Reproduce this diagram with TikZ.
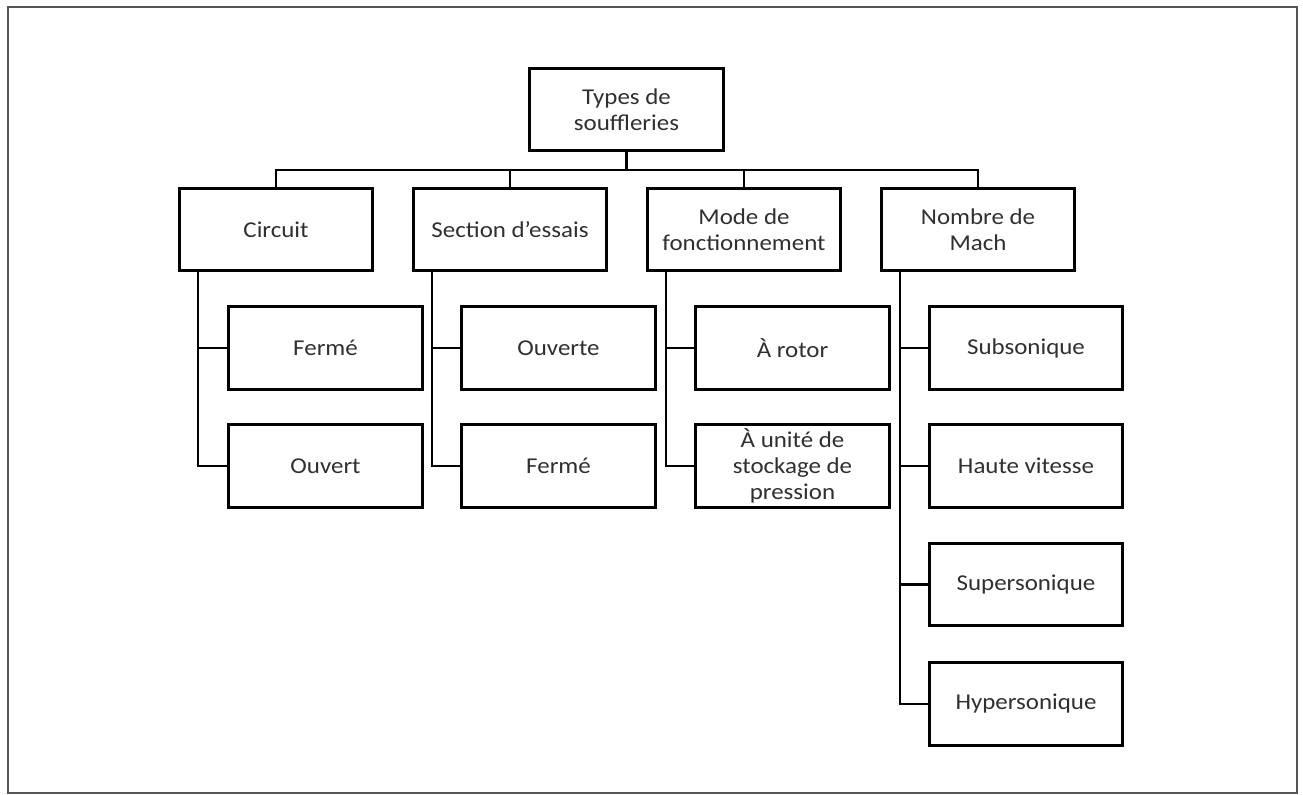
\documentclass[tikz,border=0pt]{standalone}
\usepackage{fontspec}
\setmainfont{Carlito}[FakeStretch=1.1]
\definecolor{txt}{HTML}{303030}
\definecolor{frame}{HTML}{555555}
\tikzset{
  box/.style={draw=black, line width=2.1pt, fill=white, minimum width=145pt, minimum height=62pt,
    align=center, text=txt, inner sep=2pt, font=\fontsize{17}{19.5}\selectfont},
  link/.style={draw=black, line width=2.1pt},
}
\begin{document}
\begin{tikzpicture}[x=0.75pt,y=-0.75pt]
\useasboundingbox (0,0) rectangle (1303,794);
\draw[frame, line width=1.7pt] (8,7) rectangle (1297,793);
% root
\node[box] (root) at (626.5,109.5) {Types de\\souffleries};
% level 1
\node[box] (c1) at (276,229.5) {Circuit};
\node[box] (c2) at (510,229.5) {Section d’essais};
\node[box] (c3) at (744,229.5) {Mode de\\fonctionnement};
\node[box] (c4) at (978,229.5) {Nombre de\\Mach};
% children
\node[box] (a1) at (325.5,348) {Fermé};
\node[box] (a2) at (325.5,466) {Ouvert};
\node[box] (b1) at (558.5,348) {Ouverte};
\node[box] (b2) at (558.5,466) {Fermé};
\node[box] (m1) at (792.5,348) {À rotor};
\node[box] (m2) at (792.5,466) {À unité de\\stockage de\\pression};
\node[box] (n1) at (1026,348) {Subsonique};
\node[box] (n2) at (1026,466) {Haute vitesse};
\node[box] (n3) at (1026,584.5) {Supersonique};
\node[box] (n4) at (1026,704) {Hypersonique};
% bus
\coordinate (bus) at (626.5,170);
\draw[link] (root.south) -- (bus);
\foreach \c in {c1,c2,c3,c4}{
  \draw[link] (\c.north) |- (bus);
}
% branches
\foreach \p/\k in {c1/a1,c1/a2,c2/b1,c2/b2,c3/m1,c3/m2,c4/n1,c4/n2,c4/n3,c4/n4}{
  \draw[link] ([xshift=15pt]\p.south west) |- (\k.west);
}
\end{tikzpicture}
\end{document}
